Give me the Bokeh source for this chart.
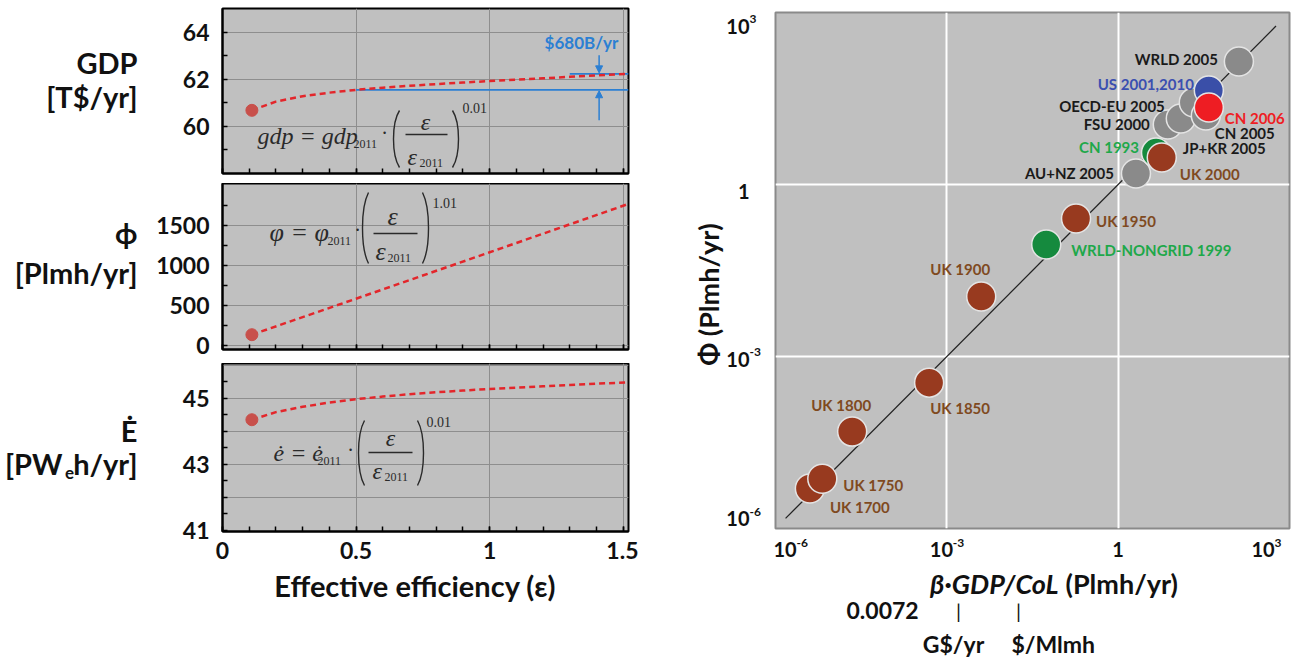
import math
from bokeh.plotting import figure
from bokeh.models import Label, FixedTicker, Arrow, NormalHead, Range1d
from bokeh.layouts import row, column
from bokeh.embed import file_html
from bokeh.resources import INLINE

# ---------------- data ----------------
eps = [0.11, 0.2, 0.3, 0.4, 0.5, 0.6, 0.7, 0.8, 0.9, 1.0, 1.1, 1.2, 1.3, 1.4, 1.52]
gdp = [60.68, 61.05, 61.28, 61.43, 61.55, 61.64, 61.72, 61.79, 61.86, 61.92, 61.98, 62.04, 62.10, 62.16, 62.23]
phi_eps = [0.11, 0.5, 1.0, 1.52]
phi = [135, 585, 1165, 1770]
edot = [44.35, 44.58, 44.74, 44.87, 44.97, 45.05, 45.12, 45.18, 45.23, 45.28, 45.32, 45.36, 45.40, 45.44, 45.48]
gap_label = "$680B/yr"

x_ticks = [0, 0.5, 1.0, 1.5]
gdp_ticks = [60, 62, 64]
phi_ticks = [0, 500, 1000, 1500]
edot_ticks = [41, 43, 45]

names = ["UK 1700", "UK 1750", "UK 1800", "UK 1850", "UK 1900", "WRLD-NONGRID 1999", "UK 1950",
         "AU+NZ 2005", "CN 1993", "UK 2000", "FSU 2000", "JP+KR 2005", "OECD-EU 2005", "US 2001,2010",
         "CN 2005", "CN 2006", "WRLD 2005"]
groups = ["UK", "UK", "UK", "UK", "UK", "green", "UK", "gray", "green", "UK", "gray", "gray", "gray",
          "US", "gray", "CN", "gray"]
gdp_col = [4.0e-6, 6.6e-6, 2.2e-5, 4.9e-4, 4.0e-3, 0.055, 0.183, 2.05, 4.6, 5.8, 7.4, 12.5, 21.1,
           38.7, 34.3, 38.7, 130]
phi_obs = [5.0e-6, 7.4e-6, 4.9e-5, 3.5e-4, 0.0111, 0.090, 0.255, 1.56, 3.6, 2.96, 11.1, 14.2, 26.9,
           43.6, 16.0, 22.0, 140]
fit_x = [1.5e-6, 5.8e2]          # fitted line: phi = beta*GDP/CoL (slope 1)
log_ticks = [1e-6, 1e-3, 1, 1e3]
log_exps = ["-6", "-3", "", "3"]

# ---------------- styles ----------------
SANS = "Lato"
SERIF = "Liberation Serif"
INK = "#111111"
fill = {"UK": "#983a1f", "green": "#158a3e", "gray": "#8a8a8a", "US": "#3a4fa8", "CN": "#ee1d23"}
txt = {"UK": "#7f4a1f", "green": "#1ea84a", "gray": "#1a1a1a", "US": "#3b4fb0", "CN": "#ee1d23"}
# label offsets (px right, px down, align)
loff = {"UK 1700": (20, 19, "left"), "UK 1750": (21, 6, "left"), "UK 1800": (-11, -27, "center"),
        "UK 1850": (1, 25, "left"), "UK 1900": (-21, -28, "center"), "WRLD-NONGRID 1999": (25, 6, "left"),
        "UK 1950": (20, 2, "left"), "AU+NZ 2005": (-22, 0, "right"), "CN 1993": (-17, -6, "right"),
        "UK 2000": (18, 17, "left"), "FSU 2000": (-18, -1, "right"), "JP+KR 2005": (2, 30, "left"),
        "OECD-EU 2005": (-29, 3, "right"), "US 2001,2010": (-15, -7, "right"),
        "CN 2005": (9, 18, "left"), "CN 2006": (16, 10, "left"), "WRLD 2005": (-21, -2, "right")}

TL = 152                   # width of the left text column
FL, FW = 222, 406          # left panels frame (page px)
XR = (0, 1.52)
GAP_R = 10
MID = FL + FW + GAP_R      # 638: start of right block
RL, RW, RT, RH = 775, 514, 12, 516


def ident(px, py):
    return px, py


def lin_conv(top, h, yr):
    def conv(px, py):
        return (XR[0] + (px - FL) / FW * (XR[1] - XR[0]),
                yr[1] - (py - top) / h * (yr[1] - yr[0]))
    return conv


def add_label(p, conv, px, py, text, size, color=INK, font=SANS, style="bold",
              align="left", angle=0.0):
    x, y = conv(px, py)
    p.add_layout(Label(x=x, y=y, text=text, text_font=font, text_font_size=f"{size}px",
                       text_font_style=style, text_color=color, text_align=align,
                       text_baseline="middle", angle=angle))


def text_fig(x0, y0, w, h):
    """blank figure whose frame uses page pixel coordinates (y downwards)"""
    f = figure(width=w, height=h, x_range=Range1d(x0, x0 + w), y_range=Range1d(y0 + h, y0),
               x_axis_location=None, y_axis_location=None, output_backend="svg",
               toolbar_location=None, min_border=0)
    f.outline_line_color = None
    f.background_fill_color = "white"
    f.border_fill_color = "white"
    f.grid.visible = False
    return f


def left_panel(yr, h, btop, bbot, yt, ymt, yg, show_x):
    p = figure(frame_width=FW, frame_height=h, x_range=Range1d(*XR), y_range=Range1d(*yr),
               output_backend="svg", toolbar_location=None, min_border_left=FL - TL,
               min_border_right=GAP_R, min_border_top=btop, min_border_bottom=bbot)
    p.background_fill_color = "#c0c0c0"
    p.border_fill_color = "white"
    p.outline_line_color = "black"
    p.outline_line_width = 2
    p.xaxis.ticker = FixedTicker(ticks=x_ticks, minor_ticks=[i / 10 for i in range(16)])
    p.xgrid.ticker = FixedTicker(ticks=[0.5, 1.0, 1.5])
    p.yaxis.ticker = FixedTicker(ticks=yt, minor_ticks=ymt)
    p.ygrid.ticker = FixedTicker(ticks=yg)
    for g in (p.xgrid, p.ygrid):
        g.grid_line_color = "#8e8e8e"
        g.grid_line_width = 1
    for ax in (p.xaxis, p.yaxis):
        ax.major_tick_in = 5
        ax.major_tick_out = 0
        ax.minor_tick_in = 5
        ax.minor_tick_out = 0
        ax.major_tick_line_color = "black"
        ax.minor_tick_line_color = "black"
        ax.major_tick_line_width = 1.5
        ax.minor_tick_line_width = 1.5
        ax.axis_line_color = "black"
        ax.axis_line_width = 2
        ax.major_label_text_font = SANS
        ax.major_label_text_font_style = "bold"
        ax.major_label_text_font_size = "23px"
        ax.major_label_text_color = INK
    p.yaxis.major_label_standoff = 13
    if show_x:
        p.xaxis.major_label_standoff = 10
        p.xaxis.major_label_overrides = {0: "0"}
    else:
        p.xaxis.major_label_overrides = {t: "" for t in x_ticks}
        p.xaxis.major_label_text_font_size = "1px"
        p.xaxis.major_label_standoff = 0
    return p


def paren(p, conv, xl, top, bot, left=True):
    col = "#2a2a2a"
    h = bot - top
    if left:
        xe, xc = xl + 6, xl - 2
    else:
        xe, xc = xl - 6, xl + 2
    a = conv(xe, top)
    b = conv(xe, bot)
    c0 = conv(xc, top + 0.22 * h)
    c1 = conv(xc, bot - 0.22 * h)
    p.bezier(x0=[a[0]], y0=[a[1]], x1=[b[0]], y1=[b[1]], cx0=[c0[0]], cy0=[c0[1]],
             cx1=[c1[0]], cy1=[c1[1]], line_color=col, line_width=1.4)


def equation(p, conv, lhs, lx, ly, lsize, sub_x, dot_x, lp_x, rp_x, ptop, pbot,
             num_x, num_y, bar_x0, bar_x1, bar_y, den_x, den_y, exp_text, exp_x, exp_y):
    col = "#2a2a2a"
    add_label(p, conv, lx, ly, lhs, lsize, col, SERIF, "italic")
    add_label(p, conv, sub_x, ly + 8, "2011", 12, col, SERIF, "normal")
    add_label(p, conv, dot_x, ly - 3, "·", 20, col, SERIF, "normal", "center")
    paren(p, conv, lp_x, ptop, pbot, True)
    paren(p, conv, rp_x, ptop, pbot, False)
    add_label(p, conv, num_x, num_y, "ε", lsize, col, SERIF, "italic", "center")
    x0, y0 = conv(bar_x0, bar_y)
    x1, _ = conv(bar_x1, bar_y)
    p.segment(x0=[x0], y0=[y0], x1=[x1], y1=[y0], line_color=col, line_width=1.3)
    add_label(p, conv, den_x, den_y, "ε", lsize, col, SERIF, "italic")
    add_label(p, conv, den_x + 12, den_y + 6, "2011", 12, col, SERIF, "normal")
    add_label(p, conv, exp_x, exp_y, exp_text, 14, col, SERIF, "normal")


RED = "#e3262b"
DOT = "#c8504b"
BLUE = "#2b7fd3"

# ---- panel 1: GDP
yr1 = (58, 65)
p1 = left_panel(yr1, 165, 8, 10, gdp_ticks, [59, 61, 63], gdp_ticks, False)
c1 = lin_conv(8, 165, yr1)
i05 = eps.index(0.5)
i13 = eps.index(1.3)
p1.line(eps[i05:], [gdp[i05]] * len(eps[i05:]), line_color=BLUE, line_width=1.8)
p1.line(eps[i13:], [gdp[-1]] * len(eps[i13:]), line_color=BLUE, line_width=1.8)
p1.line(eps, gdp, line_color=RED, line_width=2.5, line_dash="6 4")
p1.scatter([eps[0]], [gdp[0]], size=12, color=DOT)
p1.add_layout(Arrow(end=NormalHead(size=7, fill_color=BLUE, line_color=BLUE), x_start=1.41,
                    y_start=63.02, x_end=1.41, y_end=gdp[-1] + 0.04, line_color=BLUE, line_width=1.5))
p1.add_layout(Arrow(end=NormalHead(size=7, fill_color=BLUE, line_color=BLUE), x_start=1.41,
                    y_start=60.26, x_end=1.41, y_end=gdp[i05] - 0.04,
                    line_color=BLUE, line_width=1.5))
add_label(p1, c1, 581, 42, gap_label, 17, BLUE, SANS, "bold", "center")
equation(p1, c1, "gdp = gdp", 257, 135, 24, 353, 384, 393, 458, 110, 167,
         425, 121, 405, 447, 134, 407, 156, "0.01", 462, 107)

# ---- panel 2: phi
yr2 = (-50, 2025)
p2 = left_panel(yr2, 166, 0, 14, phi_ticks, [250, 750, 1250, 1750], phi_ticks, False)
c2 = lin_conv(183, 166, yr2)
p2.line(phi_eps, phi, line_color=RED, line_width=2.5, line_dash="6 4")
p2.scatter([phi_eps[0]], [phi[0]], size=12, color=DOT)
equation(p2, c2, "φ = φ", 269, 232, 26, 327, 357, 362, 428, 192, 263,
         392, 216, 373, 417, 233, 375, 251, "1.01", 432, 202)

# ---- panel 3: E dot
yr3 = (40.97, 46.05)
P3B = 35
p3 = left_panel(yr3, 168, 0, P3B, edot_ticks, [41.5, 42, 42.5, 43.5, 44, 44.5, 45.5],
                [42, 43, 44, 45, 46], True)
c3 = lin_conv(363, 168, yr3)
p3.line(eps, edot, line_color=RED, line_width=2.5, line_dash="6 4")
p3.scatter([eps[0]], [edot[0]], size=12, color=DOT)
equation(p3, c3, "ė = ė", 273, 452, 24, 317, 350, 358, 423, 420, 485,
         390, 437, 368, 412, 452, 372, 470, "0.01", 426, 421)

# ---- text areas round the left panels
LH = 8 + 165 + 10 + 166 + 14 + 168 + P3B
TBH = 60
tL = text_fig(0, 0, TL, LH + TBH)
add_label(tL, ident, 137, 62, "GDP", 29, align="right")
add_label(tL, ident, 137, 96, "[T$/yr]", 29, align="right")
add_label(tL, ident, 137, 232, "ϕ", 29, align="right")
add_label(tL, ident, 137, 272, "[Plmh/yr]", 29, align="right")
add_label(tL, ident, 137, 430, "Ė", 29, align="right")
add_label(tL, ident, 137, 463, "h/yr]", 29, align="right")
add_label(tL, ident, 69, 472, "e", 17, align="center")
add_label(tL, ident, 62, 463, "[PW", 29, align="right")

tLB = text_fig(TL, LH, MID - TL, TBH)
add_label(tLB, ident, 382, 585, "Effective efficiency (ε)", 29, align="center")

# ---- right panel: log-log
p4 = figure(x_axis_type="log", y_axis_type="log", x_range=Range1d(1e-6, 1e3),
            y_range=Range1d(1e-6, 1e3), frame_width=RW, frame_height=RH,
            output_backend="svg", toolbar_location=None,
            min_border_left=2, min_border_right=2, min_border_top=RT, min_border_bottom=2)
p4.background_fill_color = "#c0c0c0"
p4.border_fill_color = "white"
p4.outline_line_color = "#8a8a8a"
p4.outline_line_width = 2
p4.xaxis.visible = False
p4.yaxis.visible = False
p4.xgrid.ticker = FixedTicker(ticks=log_ticks)
p4.ygrid.ticker = FixedTicker(ticks=log_ticks)
for g in (p4.xgrid, p4.ygrid):
    g.grid_line_color = "white"
    g.grid_line_width = 2

DX, DY = RW / 9.0, RH / 9.0

p4.line(fit_x, fit_x, line_color="#222222", line_width=1.3)
p4.scatter(gdp_col, phi_obs, size=29, fill_color=[fill[g] for g in groups],
           line_color="#e4e4e4", line_width=1.5)
for n, g, xv, yv in zip(names, groups, gdp_col, phi_obs):
    dx, dy, al = loff[n]
    lx = 10 ** (math.log10(xv) + dx / DX)
    ly = 10 ** (math.log10(yv) - dy / DY)
    p4.add_layout(Label(x=lx, y=ly, text=n, text_font=SANS, text_font_size="15px",
                        text_font_style="bold", text_color=txt[g], text_align=al,
                        text_baseline="middle"))

P4H = RT + RH + 2
tM = text_fig(MID, 0, RL - 2 - MID, P4H)
tB = text_fig(MID, P4H, RL - MID + RW + 2, 662 - P4H - 4)

# y tick labels (10 + superscript), placed at the decades of the log axis
for t, e in zip(log_ticks, log_exps):
    py = RT + (3 - math.log10(t)) * DY
    py = min(max(py, RT + 2), RT + RH - 8)
    if e == "":
        add_label(tM, ident, 749, py, "1", 20, align="right")
        continue
    add_label(tM, ident, 749, py, "10", 20, align="right")
    add_label(tM, ident, 749, py - 7, e, 12)
add_label(tM, ident, 708, 290, "Φ (Plmh/yr)", 27, align="center", angle=math.pi / 2)

# x tick labels
for t, e in zip(log_ticks, log_exps):
    px = RL + (math.log10(t) + 6) * DX
    if e == "":
        add_label(tB, ident, px, 549, "1", 20, align="center")
        continue
    x10 = min(max(px - 17, RL - 2), RL + RW - 38)
    add_label(tB, ident, x10, 549, "10", 20)
    add_label(tB, ident, x10 + 23, 542, e, 12)

add_label(tB, ident, 1058, 583, "β·GDP/CoL", 27, style="bold italic", align="right")
add_label(tB, ident, 1065, 583, "(Plmh/yr)", 27)
add_label(tB, ident, 846, 610, "0.0072", 23)
add_label(tB, ident, 958, 610, "|", 20, style="normal", align="center")
add_label(tB, ident, 1018, 610, "|", 20, style="normal", align="center")
add_label(tB, ident, 953, 643, "G$/yr", 23, align="center")
add_label(tB, ident, 1011, 643, "$/Mlmh", 23)

left = row(tL, column(p1, p2, p3, tLB))
right = column(row(tM, p4), tB)
layout = row(left, right)
open("out.html", "w").write(file_html(layout, INLINE))
